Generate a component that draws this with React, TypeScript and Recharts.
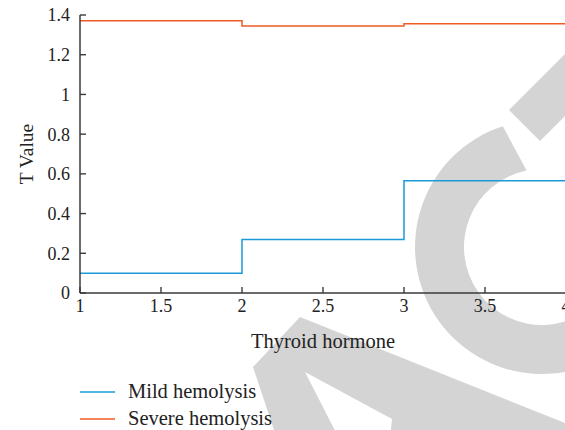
import React from 'react';
import { LineChart, Line, XAxis, YAxis, Legend } from 'recharts';

// values
const thyroidLevels = [1, 2, 3, 4];
const mildHemolysis = [0.1, 0.27, 0.565, 0.565];
const severeHemolysis = [1.371, 1.345, 1.356, 1.356];
const xTicks = [1, 1.5, 2, 2.5, 3, 3.5, 4];
const yTicks = [0, 0.2, 0.4, 0.6, 0.8, 1, 1.2, 1.4];
const seriesNames = ['Mild hemolysis', 'Severe hemolysis'];
const seriesKeys = ['mild', 'severe'];
const seriesColors = ['#1a9bd7', '#f15a24'];

const FONT = '"Liberation Serif", "Times New Roman", serif';
const AXIS = '#3a3a3a';
const tickText = { fill: '#222', fontSize: 18, fontFamily: FONT };
const tickMark = { stroke: AXIS, strokeWidth: 1.4 };

const data = thyroidLevels.map((x, i) => ({
  x,
  mild: mildHemolysis[i],
  severe: severeHemolysis[i],
}));

const xTitle = ({ viewBox }: any) => (
  <text
    x={viewBox.x + viewBox.width / 2}
    y={viewBox.y + 55}
    textAnchor="middle"
    fontSize={20.5}
    fill="#222"
    fontFamily={FONT}
  >
    Thyroid hormone
  </text>
);

const yTitle = ({ viewBox }: any) => {
  const cx = viewBox.x + 33;
  const cy = viewBox.y + viewBox.height / 2;
  return (
    <text
      x={cx}
      y={cy}
      transform={`rotate(-90, ${cx}, ${cy})`}
      textAnchor="middle"
      fontSize={19.5}
      fill="#222"
      fontFamily={FONT}
    >
      T Value
    </text>
  );
};

const renderLegend = () => (
  <div style={{ fontFamily: FONT, fontSize: 20.5, color: '#222' }}>
    {seriesNames.map((name, i) => (
      <div key={name} style={{ display: 'flex', alignItems: 'center', height: 27 }}>
        <svg width={48} height={4} style={{ display: 'block' }}>
          <line x1={0} x2={35} y1={2} y2={2} stroke={seriesColors[i]} strokeWidth={1.5} />
        </svg>
        <span style={{ lineHeight: '27px' }}>{name}</span>
      </div>
    ))}
  </div>
);

// background watermark (grey letters) behind the plot
const Watermark = () => (
  <svg width={565} height={430} style={{ position: 'absolute', left: 0, top: 0 }}>
    <g fill="#d4d4d4">
      <path d="M 502.8 126.2 A 127 127 0 1 0 652 310.5 L 609.5 286 A 78 78 0 1 1 526.6 170.5 Z" />
      <polygon points="509,110 540,141 620,61 589,30" />
      <path
        fillRule="evenodd"
        d="M 253 367 L 300 317 L 620 445 L 620 460 L 284 460 Z M 305 372 L 392 419 L 388 460 L 350 460 Z"
      />
    </g>
  </svg>
);

export default function App() {
  return (
    <div
      style={{
        position: 'absolute',
        left: 0,
        top: 0,
        width: 565,
        height: 430,
        overflow: 'hidden',
        background: '#fff',
      }}
    >
      <Watermark />
      <div style={{ position: 'absolute', left: 0, top: 0 }}>
        <LineChart
          width={580}
          height={430}
          data={data}
          margin={{ top: 15, right: 14, bottom: 77, left: 0 }}
        >
          <XAxis
            dataKey="x"
            type="number"
            domain={[1, 4]}
            ticks={xTicks}
            interval={0}
            height={60}
            tickSize={-6}
            tickMargin={12}
            tickLine={tickMark}
            tick={tickText}
            axisLine={{ stroke: AXIS, strokeWidth: 1.5 }}
            label={{ content: xTitle }}
          />
          <XAxis
            xAxisId="top"
            orientation="top"
            dataKey="x"
            type="number"
            domain={[1, 4]}
            ticks={xTicks}
            interval={0}
            height={0}
            tickSize={-6}
            tickLine={tickMark}
            tick={false}
            axisLine={{ stroke: '#555', strokeWidth: 1.3 }}
          />
          <YAxis
            type="number"
            domain={[0, 1.4]}
            ticks={yTicks}
            interval={0}
            width={80}
            tickSize={-6}
            tickMargin={16}
            tickLine={tickMark}
            tick={tickText}
            axisLine={{ stroke: AXIS, strokeWidth: 1.5 }}
            label={{ content: yTitle }}
          />
          <YAxis
            yAxisId="right"
            orientation="right"
            type="number"
            domain={[0, 1.4]}
            ticks={yTicks}
            interval={0}
            width={0}
            tickSize={-6}
            tickLine={tickMark}
            tick={false}
            axisLine={{ stroke: '#555', strokeWidth: 1.3 }}
          />
          <Legend
            layout="vertical"
            align="center"
            verticalAlign="middle"
            content={renderLegend}
            wrapperStyle={{ position: 'absolute', left: 80, top: 378, width: 'auto' }}
          />
          {seriesKeys.map((key, i) => (
            <Line
              key={key}
              dataKey={key}
              name={seriesNames[i]}
              type="stepAfter"
              stroke={seriesColors[i]}
              strokeWidth={1.5}
              dot={false}
              activeDot={false}
              isAnimationActive={false}
            />
          ))}
        </LineChart>
      </div>
    </div>
  );
}
